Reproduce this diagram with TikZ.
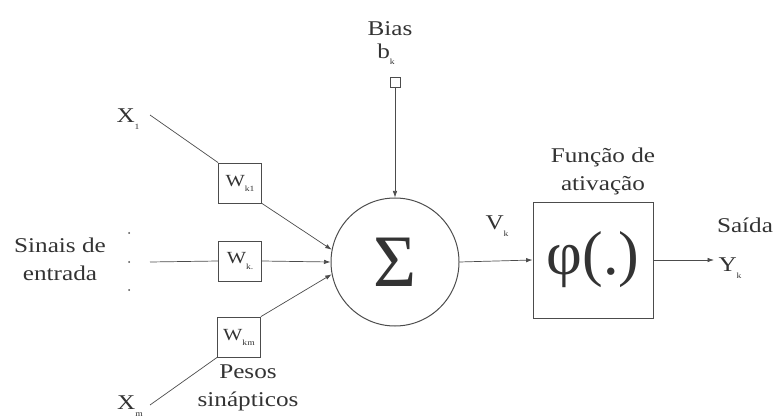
\documentclass[tikz,border=0pt]{standalone}
\usepackage{fontspec}
\setmainfont{Liberation Serif}[FakeStretch=1.2]
\newfontfamily\plainserif{Liberation Serif}
\usetikzlibrary{arrows.meta}
\definecolor{ink}{rgb}{0.2,0.2,0.2}
\definecolor{ln}{rgb}{0.3,0.3,0.3}
\newcommand\subk[1]{\raisebox{-0.3em}{\fontsize{8}{8}\selectfont #1}}
\begin{document}
\begin{tikzpicture}[x=1pt,y=-1pt,
  txt/.style={font=\fontsize{21}{28}\selectfont, text=ink, inner sep=0pt, align=center},
  wbox/.style={draw=ln, line width=0.8pt, minimum width=43pt, minimum height=40pt, inner sep=0pt, text=ink, font=\fontsize{17}{17}\selectfont},
  conn/.style={draw=ln, line width=0.7pt},
  arr/.style={-{Latex[length=6.5pt,width=4.5pt]}, ln}]
\useasboundingbox (0,0) rectangle (775,419);
% main blocks
\node[circle, draw=ln, line width=1pt, minimum size=128pt, inner sep=0pt, text=ink,
      font=\plainserif\fontsize{74}{74}\selectfont] (sum) at (395,262) {Σ};
\node[draw=ln, line width=0.9pt, minimum width=120pt, minimum height=116pt, inner sep=0pt, text=ink,
      font=\plainserif\fontsize{62}{62}\selectfont] (act) at (593,260) {φ(.)};
% weights
\node[wbox] (wk1) at (240,183) {W\subk{k1}};
\node[wbox] (wk2) at (240,261) {W\subk{k.}};
\node[wbox] (wkm) at (239,337) {W\subk{km}};
% bias
\node[txt] (bias) at (390,29) {Bias};
\node[txt] (bk) at (386,54) {b\subk{k}};
\node[draw=ln, line width=0.8pt, minimum size=10pt, inner sep=0pt] (bsq) at (395,82) {};
% labels
\node[txt] (x1) at (128,119) {X\subk{1}};
\node[txt] (xm) at (130,406) {X\subk{m}};
\node[txt] (sin) at (60,259) {Sinais de\\entrada};
\node[txt] (pesos) at (248,388) {Pesos\\sinápticos};
\node[txt] (func) at (603,171) {Função de\\ativação};
\node[txt] (vk) at (497,226) {V\subk{k}};
\node[txt] (saida) at (745,225) {Saída};
\node[txt] (yk) at (730,268) {Y\subk{k}};
% dots
\foreach \yy/\nm in {233/d1,262/d2,290/d3}
  \node[circle, fill=ln, inner sep=0pt, minimum size=2pt] (\nm) at (129,\yy) {};
% free ends
\coordinate (s1) at (150,115);
\coordinate (s2) at (150,262);
\coordinate (s3) at (150,405);
\coordinate (yend) at (714,260);
% connectors
\draw[conn] (s1) -- (wk1.north west);
\draw[conn,arr] (wk1.south east) -- (sum.169);
\draw[conn] (s2) -- (wk2.west);
\draw[conn,arr] (wk2.east) -- (sum.180);
\draw[conn] (s3) -- (wkm.south west);
\draw[conn,arr] (wkm.north east) -- (sum.191);
\draw[conn,arr] (bsq.south) -- (sum.north);
\draw[conn,arr] (sum.east) -- (act.west);
\draw[conn,arr] (act.east) -- (yend);
\end{tikzpicture}
\end{document}
